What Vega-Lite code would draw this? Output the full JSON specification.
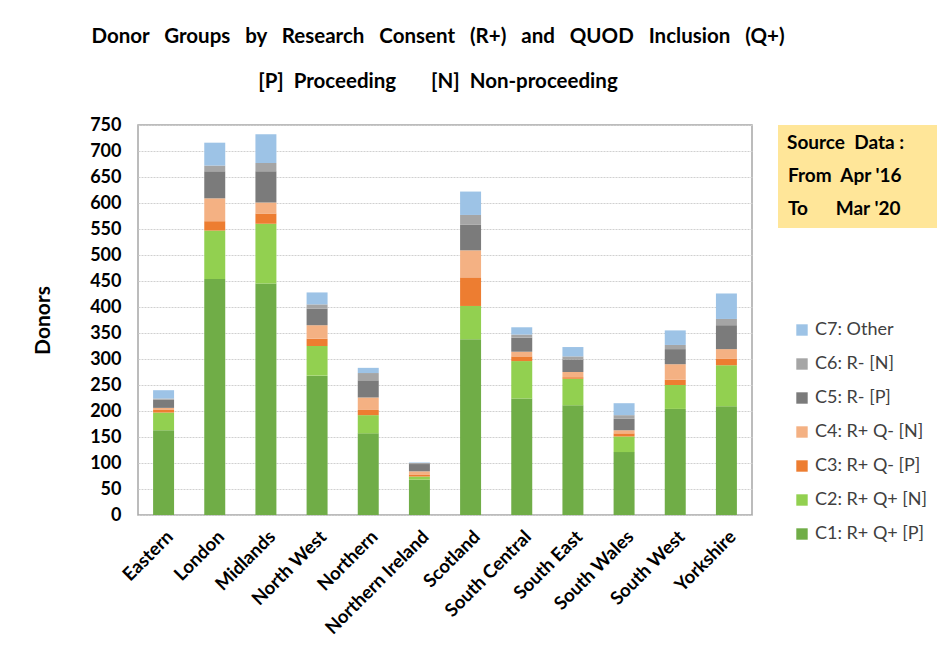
{
  "$schema": "https://vega.github.io/schema/vega-lite/v6.json",
  "autosize": {"type": "none"},
  "width": 614,
  "height": 390,
  "padding": {"left": 138, "top": 125, "right": 193, "bottom": 146},
  "background": "white",
  "title": {
    "text": "Donor\u00a0\u00a0\u00a0Groups\u00a0\u00a0\u00a0by\u00a0\u00a0\u00a0Research\u00a0\u00a0\u00a0Consent\u00a0\u00a0\u00a0(R+)\u00a0\u00a0\u00a0and\u00a0\u00a0\u00a0QUOD\u00a0\u00a0\u00a0Inclusion\u00a0\u00a0\u00a0(Q+)",
    "subtitle": "[P]\u00a0\u00a0Proceeding\u00a0\u00a0\u00a0\u00a0\u00a0\u00a0\u00a0[N]\u00a0\u00a0Non-proceeding",
    "anchor": "middle",
    "font": "Lato",
    "fontSize": 20.5,
    "fontWeight": "bold",
    "color": "#000000",
    "subtitleFont": "Lato",
    "subtitleFontSize": 20.5,
    "subtitleFontWeight": "bold",
    "subtitleColor": "#000000",
    "subtitlePadding": 24,
    "offset": 24,
    "dx": -7
  },
  "config": {
    "view": {"stroke": "#A6A6A6", "strokeWidth": 1.5},
    "font": "Lato"
  },
  "layer": [
    {
      "data": {
        "values": [
          {"r": "Eastern", "c": "C1: R+ Q+ [P]", "n": 163},
          {"r": "Eastern", "c": "C2: R+ Q+ [N]", "n": 34},
          {"r": "Eastern", "c": "C3: R+ Q- [P]", "n": 5},
          {"r": "Eastern", "c": "C4: R+ Q- [N]", "n": 4},
          {"r": "Eastern", "c": "C5: R- [P]", "n": 16},
          {"r": "Eastern", "c": "C6: R- [N]", "n": 2},
          {"r": "Eastern", "c": "C7: Other", "n": 16},
          {"r": "London", "c": "C1: R+ Q+ [P]", "n": 454},
          {"r": "London", "c": "C2: R+ Q+ [N]", "n": 93},
          {"r": "London", "c": "C3: R+ Q- [P]", "n": 18},
          {"r": "London", "c": "C4: R+ Q- [N]", "n": 44},
          {"r": "London", "c": "C5: R- [P]", "n": 52},
          {"r": "London", "c": "C6: R- [N]", "n": 11},
          {"r": "London", "c": "C7: Other", "n": 44},
          {"r": "Midlands", "c": "C1: R+ Q+ [P]", "n": 445},
          {"r": "Midlands", "c": "C2: R+ Q+ [N]", "n": 115},
          {"r": "Midlands", "c": "C3: R+ Q- [P]", "n": 20},
          {"r": "Midlands", "c": "C4: R+ Q- [N]", "n": 21},
          {"r": "Midlands", "c": "C5: R- [P]", "n": 60},
          {"r": "Midlands", "c": "C6: R- [N]", "n": 16},
          {"r": "Midlands", "c": "C7: Other", "n": 55},
          {"r": "North West", "c": "C1: R+ Q+ [P]", "n": 268},
          {"r": "North West", "c": "C2: R+ Q+ [N]", "n": 57},
          {"r": "North West", "c": "C3: R+ Q- [P]", "n": 14},
          {"r": "North West", "c": "C4: R+ Q- [N]", "n": 26},
          {"r": "North West", "c": "C5: R- [P]", "n": 32},
          {"r": "North West", "c": "C6: R- [N]", "n": 8},
          {"r": "North West", "c": "C7: Other", "n": 23},
          {"r": "Northern", "c": "C1: R+ Q+ [P]", "n": 157},
          {"r": "Northern", "c": "C2: R+ Q+ [N]", "n": 35},
          {"r": "Northern", "c": "C3: R+ Q- [P]", "n": 10},
          {"r": "Northern", "c": "C4: R+ Q- [N]", "n": 24},
          {"r": "Northern", "c": "C5: R- [P]", "n": 33},
          {"r": "Northern", "c": "C6: R- [N]", "n": 14},
          {"r": "Northern", "c": "C7: Other", "n": 10},
          {"r": "Northern Ireland", "c": "C1: R+ Q+ [P]", "n": 68},
          {"r": "Northern Ireland", "c": "C2: R+ Q+ [N]", "n": 6},
          {"r": "Northern Ireland", "c": "C3: R+ Q- [P]", "n": 3},
          {"r": "Northern Ireland", "c": "C4: R+ Q- [N]", "n": 7},
          {"r": "Northern Ireland", "c": "C5: R- [P]", "n": 14},
          {"r": "Northern Ireland", "c": "C6: R- [N]", "n": 2},
          {"r": "Northern Ireland", "c": "C7: Other", "n": 1},
          {"r": "Scotland", "c": "C1: R+ Q+ [P]", "n": 338},
          {"r": "Scotland", "c": "C2: R+ Q+ [N]", "n": 64},
          {"r": "Scotland", "c": "C3: R+ Q- [P]", "n": 55},
          {"r": "Scotland", "c": "C4: R+ Q- [N]", "n": 52},
          {"r": "Scotland", "c": "C5: R- [P]", "n": 49},
          {"r": "Scotland", "c": "C6: R- [N]", "n": 19},
          {"r": "Scotland", "c": "C7: Other", "n": 45},
          {"r": "South Central", "c": "C1: R+ Q+ [P]", "n": 224},
          {"r": "South Central", "c": "C2: R+ Q+ [N]", "n": 72},
          {"r": "South Central", "c": "C3: R+ Q- [P]", "n": 9},
          {"r": "South Central", "c": "C4: R+ Q- [N]", "n": 9},
          {"r": "South Central", "c": "C5: R- [P]", "n": 27},
          {"r": "South Central", "c": "C6: R- [N]", "n": 6},
          {"r": "South Central", "c": "C7: Other", "n": 14},
          {"r": "South East", "c": "C1: R+ Q+ [P]", "n": 211},
          {"r": "South East", "c": "C2: R+ Q+ [N]", "n": 51},
          {"r": "South East", "c": "C3: R+ Q- [P]", "n": 3},
          {"r": "South East", "c": "C4: R+ Q- [N]", "n": 10},
          {"r": "South East", "c": "C5: R- [P]", "n": 24},
          {"r": "South East", "c": "C6: R- [N]", "n": 6},
          {"r": "South East", "c": "C7: Other", "n": 18},
          {"r": "South Wales", "c": "C1: R+ Q+ [P]", "n": 121},
          {"r": "South Wales", "c": "C2: R+ Q+ [N]", "n": 30},
          {"r": "South Wales", "c": "C3: R+ Q- [P]", "n": 6},
          {"r": "South Wales", "c": "C4: R+ Q- [N]", "n": 6},
          {"r": "South Wales", "c": "C5: R- [P]", "n": 22},
          {"r": "South Wales", "c": "C6: R- [N]", "n": 7},
          {"r": "South Wales", "c": "C7: Other", "n": 23},
          {"r": "South West", "c": "C1: R+ Q+ [P]", "n": 204},
          {"r": "South West", "c": "C2: R+ Q+ [N]", "n": 46},
          {"r": "South West", "c": "C3: R+ Q- [P]", "n": 10},
          {"r": "South West", "c": "C4: R+ Q- [N]", "n": 30},
          {"r": "South West", "c": "C5: R- [P]", "n": 29},
          {"r": "South West", "c": "C6: R- [N]", "n": 8},
          {"r": "South West", "c": "C7: Other", "n": 28},
          {"r": "Yorkshire", "c": "C1: R+ Q+ [P]", "n": 209},
          {"r": "Yorkshire", "c": "C2: R+ Q+ [N]", "n": 79},
          {"r": "Yorkshire", "c": "C3: R+ Q- [P]", "n": 13},
          {"r": "Yorkshire", "c": "C4: R+ Q- [N]", "n": 18},
          {"r": "Yorkshire", "c": "C5: R- [P]", "n": 46},
          {"r": "Yorkshire", "c": "C6: R- [N]", "n": 12},
          {"r": "Yorkshire", "c": "C7: Other", "n": 49}
        ]
      },
      "mark": {"type": "bar"},
      "encoding": {
        "x": {
          "field": "r",
          "type": "nominal",
          "sort": null,
          "scale": {"paddingInner": 0.59, "paddingOuter": 0.295},
          "axis": {
            "title": null,
            "labelAngle": -45,
            "labelFont": "Lato",
            "labelFontSize": 18.5,
            "labelFontWeight": "bold",
            "labelColor": "#000000",
            "labelPadding": 12,
            "ticks": false,
            "domain": false,
            "labelLimit": 300
          }
        },
        "y": {
          "field": "n",
          "type": "quantitative",
          "stack": "zero",
          "scale": {"domain": [0, 750], "nice": false},
          "axis": {
            "title": "Donors",
            "titleFont": "Lato",
            "titleFontSize": 21,
            "titleFontWeight": "bold",
            "titleColor": "#000000",
            "titlePadding": 36,
            "values": [0, 50, 100, 150, 200, 250, 300, 350, 400, 450, 500, 550, 600, 650, 700, 750],
            "labelFont": "Lato",
            "labelFontSize": 18,
            "labelFontWeight": "bold",
            "labelColor": "#000000",
            "labelPadding": 17,
            "ticks": false,
            "domain": false,
            "grid": true,
            "gridColor": "#D0D0D0",
            "gridDash": [2, 1],
            "gridWidth": 1
          }
        },
        "color": {
          "field": "c",
          "type": "nominal",
          "scale": {
            "domain": ["C7: Other", "C6: R- [N]", "C5: R- [P]", "C4: R+ Q- [N]", "C3: R+ Q- [P]", "C2: R+ Q+ [N]", "C1: R+ Q+ [P]"],
            "range": ["#9DC3E6", "#A5A5A5", "#7B7B7B", "#F4B183", "#ED7D31", "#92D050", "#70AD47"]
          },
          "legend": {
            "title": null,
            "orient": "none",
            "legendX": 655,
            "legendY": 196,
            "symbolType": "square",
            "symbolSize": 130,
            "symbolStrokeWidth": 0,
            "labelFont": "Lato",
            "labelFontSize": 18,
            "labelColor": "#404040",
            "rowPadding": 16,
            "labelOffset": 4
          }
        },
        "order": {"field": "c", "type": "nominal", "sort": "ascending"}
      }
    },
    {
      "data": {
        "values": [
          {"period": "From\u00a0\u00a0Apr '16"},
          {"period": "To\u00a0\u00a0\u00a0\u00a0\u00a0\u00a0Mar '20"}
        ]
      },
      "mark": {"type": "point", "opacity": 0},
      "encoding": {
        "shape": {
          "field": "period",
          "type": "nominal",
          "legend": {
            "title": "Source\u00a0\u00a0Data :\u00a0\u00a0\u2800",
            "orient": "none",
            "legendX": 640,
            "legendY": 0,
            "fillColor": "#FFE699",
            "padding": 9,
            "symbolSize": 0,
            "symbolOpacity": 0,
            "symbolStrokeWidth": 0,
            "labelOffset": -18,
            "titleFont": "Lato",
            "titleFontSize": 19,
            "titleFontWeight": "bold",
            "titleColor": "#000000",
            "titlePadding": 13,
            "labelFont": "Lato",
            "labelFontSize": 19,
            "labelFontWeight": "bold",
            "labelColor": "#000000",
            "rowPadding": 13
          }
        }
      }
    }
  ]
}
